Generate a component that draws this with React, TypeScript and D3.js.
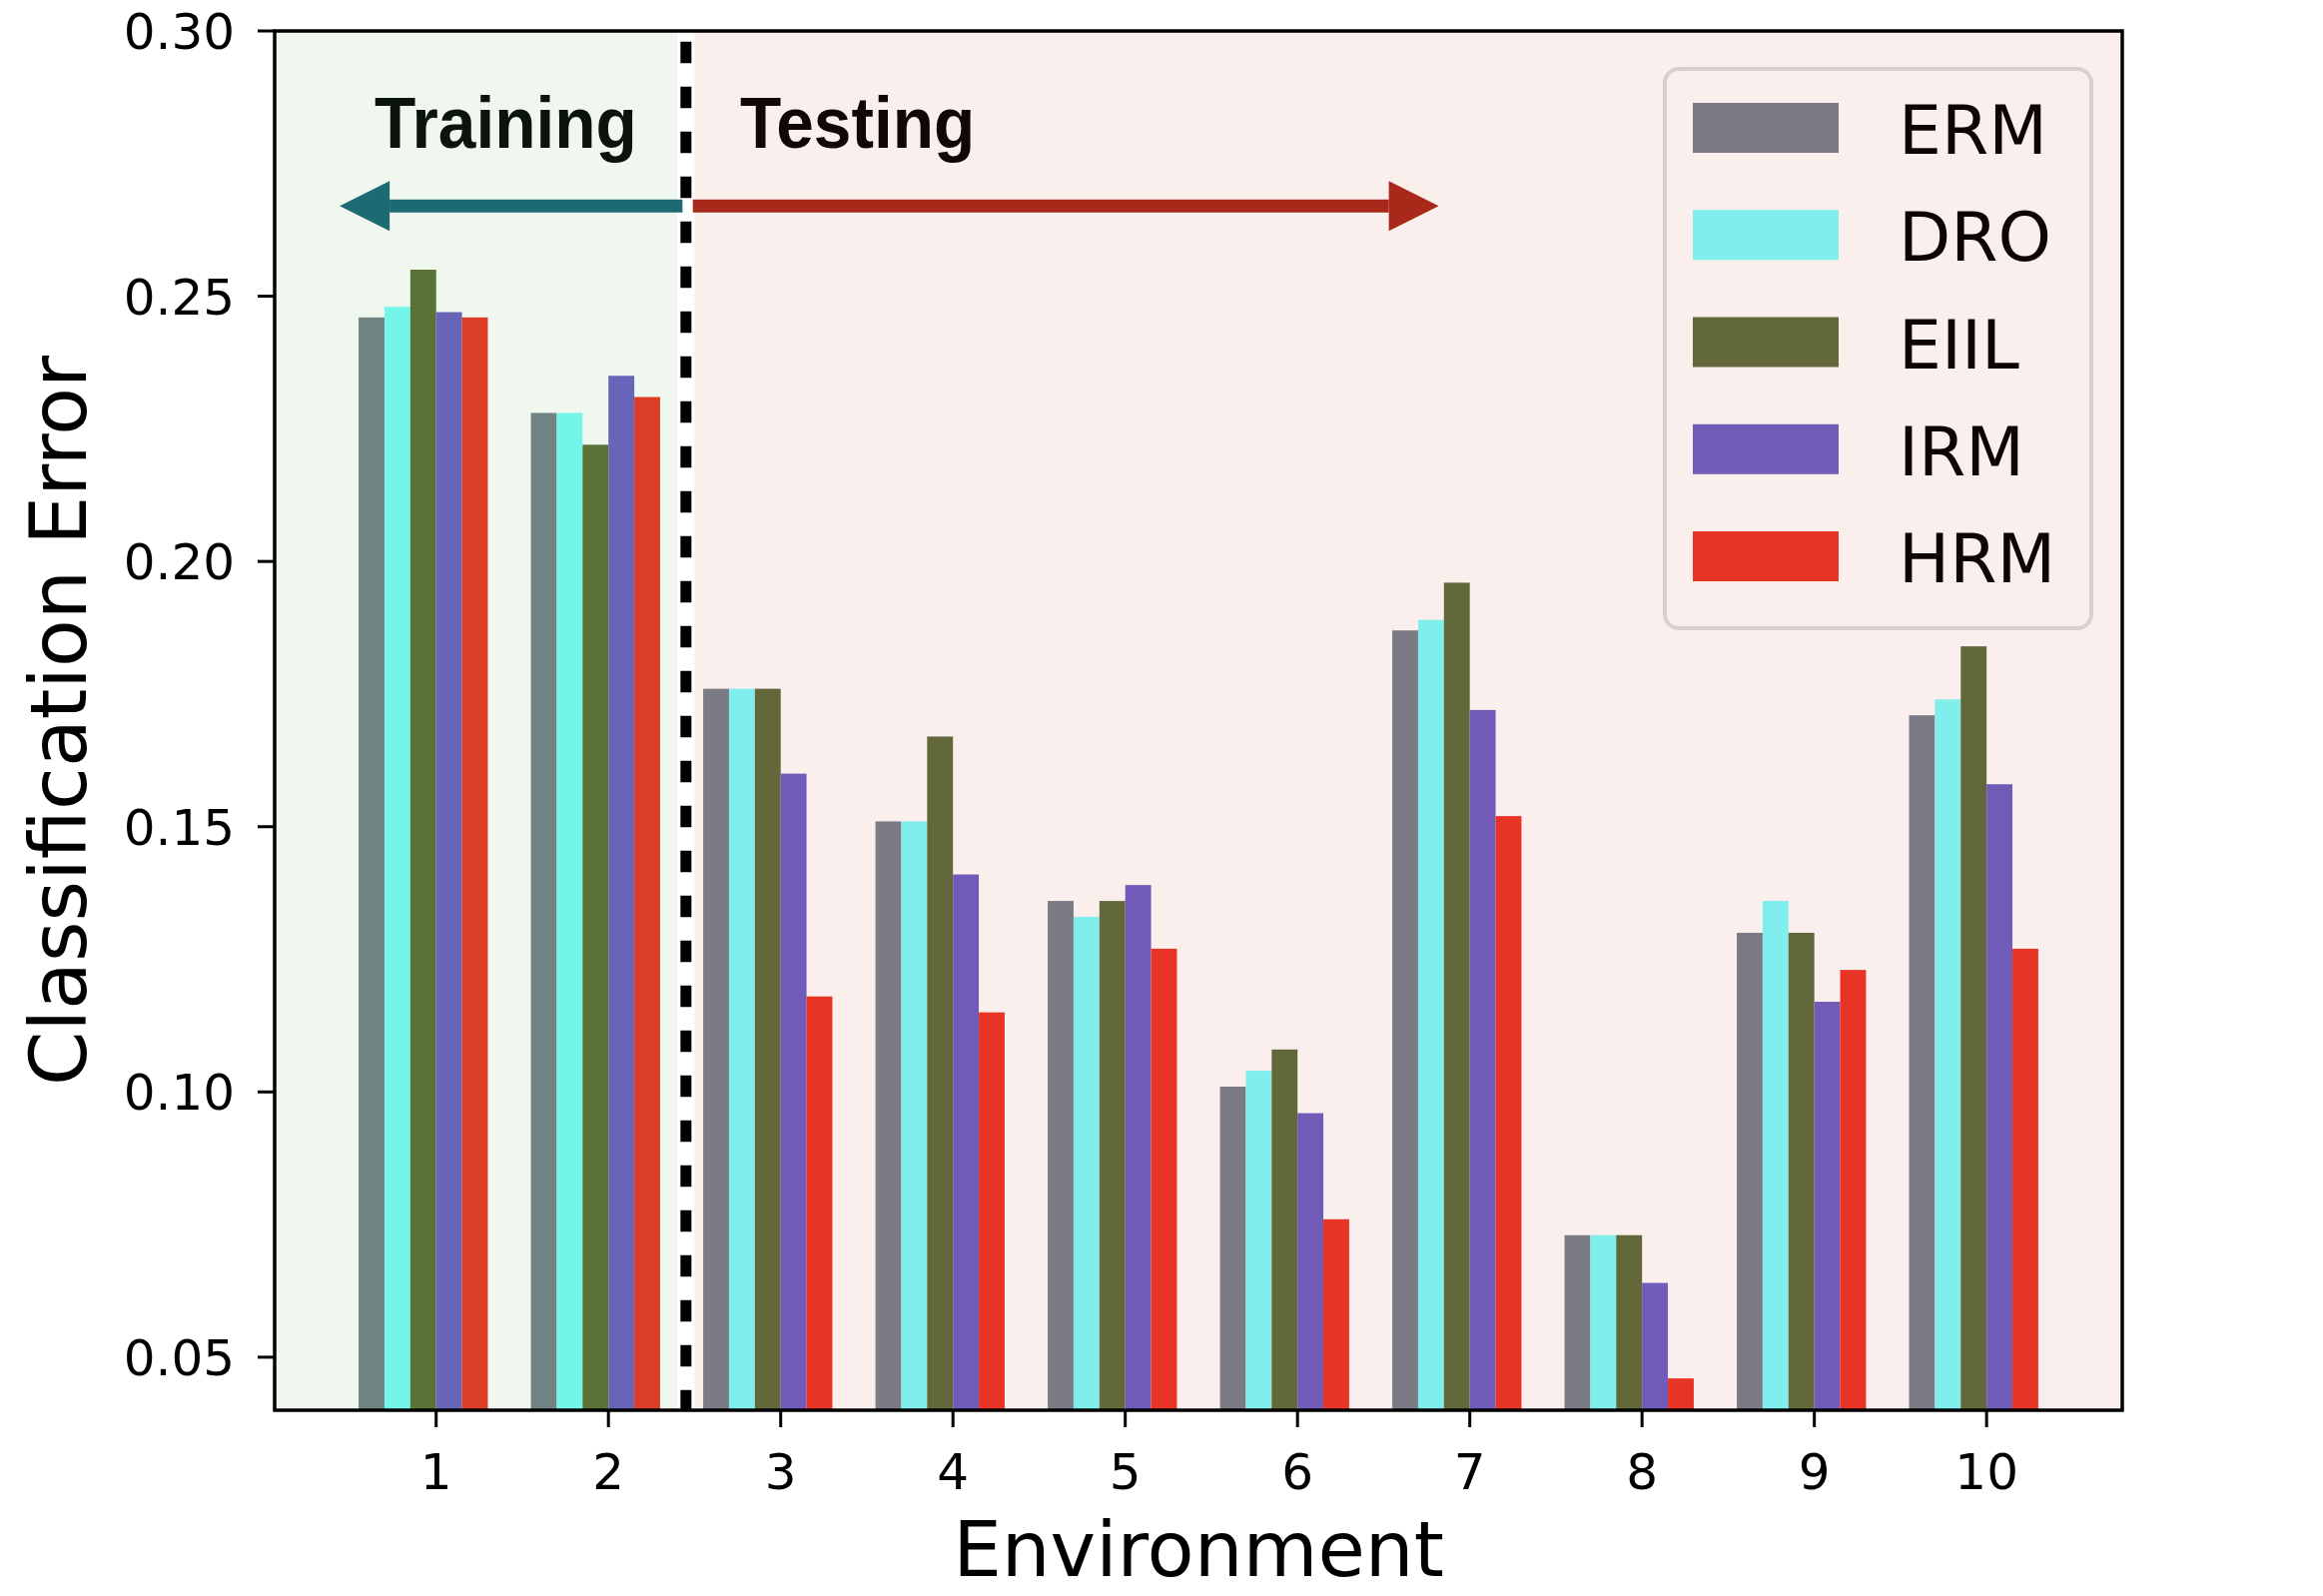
import { useEffect, useRef } from "react"
import * as d3 from "d3"

// Environments on the x axis
const environments = [1, 2, 3, 4, 5, 6, 7, 8, 9, 10]
const methods = ["ERM", "DRO", "EIIL", "IRM", "HRM"]

// Classification error per method, one value per environment
const erm = [0.246, 0.228, 0.176, 0.151, 0.136, 0.101, 0.187, 0.073, 0.13, 0.171]
const dro = [0.248, 0.228, 0.176, 0.151, 0.133, 0.104, 0.189, 0.073, 0.136, 0.174]
const eiil = [0.255, 0.222, 0.176, 0.167, 0.136, 0.108, 0.196, 0.073, 0.13, 0.184]
const irm = [0.247, 0.235, 0.16, 0.141, 0.139, 0.096, 0.172, 0.064, 0.117, 0.158]
const hrm = [0.246, 0.231, 0.118, 0.115, 0.127, 0.076, 0.152, 0.046, 0.123, 0.127]

const yTicks = [0.05, 0.1, 0.15, 0.2, 0.25, 0.3]
const trainingEnvs = [1, 2]

const testColors = ["#7b7b86", "#7feeec", "#63683a", "#705cb8", "#e83425"]
const trainColors = ["#718282", "#74f5ea", "#5b7236", "#6865b8", "#db3d26"]

export default function App() {
  const svgRef = useRef<SVGSVGElement>(null)
  const width = 2326
  const height = 1598

  useEffect(() => {
    const svg = d3.select(svgRef.current)
    svg.selectAll("*").remove()

    const margin = { top: 31, right: 201, bottom: 186, left: 275 }
    const x0 = margin.left
    const x1 = width - margin.right
    const y0 = height - margin.bottom
    const y1 = margin.top

    const series = [erm, dro, eiil, irm, hrm]
    const barW = 0.15

    // matplotlib style limits: bar extent plus 5% margin
    const lo = 1 - 3 * barW
    const hi = 10 + 2 * barW
    const pad = (hi - lo) * 0.05
    const x = d3.scaleLinear().domain([lo - pad, hi + pad]).range([x0, x1])
    const y = d3.scaleLinear().domain([0.04, 0.3]).range([y0, y1])

    const g = svg.append("g")

    // clip for everything inside the axes
    svg
      .append("clipPath")
      .attr("id", "plotClip")
      .append("rect")
      .attr("x", x0)
      .attr("y", y1)
      .attr("width", x1 - x0)
      .attr("height", y0 - y1)

    const plot = g.append("g").attr("clip-path", "url(#plotClip)")

    // training / testing regions
    plot
      .append("rect")
      .attr("x", x0)
      .attr("y", y1)
      .attr("width", x(2.4) - x0)
      .attr("height", y0 - y1)
      .attr("fill", "#f0f7ee")
    plot
      .append("rect")
      .attr("x", x(2.5))
      .attr("y", y1)
      .attr("width", x1 - x(2.5))
      .attr("height", y0 - y1)
      .attr("fill", "#fbefed")

    // bars
    series.forEach((vals, i) => {
      plot
        .append("g")
        .selectAll("rect")
        .data(vals)
        .join("rect")
        .attr("x", (_, j) => x(environments[j] + (i - 3) * barW))
        .attr("width", x(barW) - x(0))
        .attr("y", (d) => y(d))
        .attr("height", (d) => y0 + 10 - y(d))
        .attr("fill", (_, j) => (trainingEnvs.includes(environments[j]) ? trainColors[i] : testColors[i]))
    })

    // dashed divider
    plot
      .append("line")
      .attr("x1", x(2.45))
      .attr("x2", x(2.45))
      .attr("y1", y1)
      .attr("y2", y0)
      .attr("stroke", "#000")
      .attr("stroke-width", 11)
      .attr("stroke-dasharray", "21.6 23.4")
      .attr("stroke-dashoffset", 34.3)

    // arrows
    const arrowY = y(0.267)
    const drawArrow = (from: number, to: number, color: string) => {
      const dir = Math.sign(to - from)
      const xf = x(from)
      const xt = x(to)
      const headLen = 50
      const headHalf = 25
      plot
        .append("line")
        .attr("x1", xf)
        .attr("x2", xt - dir * headLen)
        .attr("y1", arrowY)
        .attr("y2", arrowY)
        .attr("stroke", color)
        .attr("stroke-width", 13)
      plot
        .append("path")
        .attr(
          "d",
          `M${xt},${arrowY}L${xt - dir * headLen},${arrowY - headHalf}L${xt - dir * headLen},${arrowY + headHalf}Z`
        )
        .attr("fill", color)
    }
    drawArrow(2.43, 0.44, "#1d6a74")
    drawArrow(2.49, 6.82, "#a8291a")

    // region labels (condensed bold)
    const labelFont = "'Liberation Sans', Arial, Helvetica, sans-serif"
    const regionLabel = (at: number, label: string, color: string) => {
      plot
        .append("text")
        .attr("transform", `translate(${x(at)},${y(0.278)}) scale(0.926,1)`)
        .attr("font-family", labelFont)
        .attr("font-weight", "bold")
        .attr("font-size", 73)
        .attr("fill", color)
        .text(label)
    }
    regionLabel(0.642, "Training", "#0a140a")
    regionLabel(2.764, "Testing", "#120606")

    // legend
    const font = "'DejaVu Sans', sans-serif"
    const lg = g.append("g").attr("transform", `translate(${x1 - 458},${y1 + 38})`)
    lg.append("rect")
      .attr("x", 0)
      .attr("y", 0)
      .attr("width", 427)
      .attr("height", 560)
      .attr("rx", 14)
      .attr("fill", "#faefed")
      .attr("stroke", "#dacfcf")
      .attr("stroke-width", 4)
    methods.forEach((m, i) => {
      const cy = 59 + i * 107.25
      lg.append("rect")
        .attr("x", 28)
        .attr("y", cy - 25)
        .attr("width", 146)
        .attr("height", 50)
        .attr("fill", testColors[i])
      lg.append("text")
        .attr("x", 234)
        .attr("y", cy + 26)
        .attr("font-family", font)
        .attr("font-size", 68)
        .attr("fill", "#0d0505")
        .text(m)
    })

    // spines
    g.append("rect")
      .attr("x", x0)
      .attr("y", y1)
      .attr("width", x1 - x0)
      .attr("height", y0 - y1)
      .attr("fill", "none")
      .attr("stroke", "#000")
      .attr("stroke-width", 3.5)

    // y axis
    const yAxis = g.append("g")
    yTicks.forEach((t) => {
      yAxis
        .append("line")
        .attr("x1", x0 - 17)
        .attr("x2", x0)
        .attr("y1", y(t))
        .attr("y2", y(t))
        .attr("stroke", "#000")
        .attr("stroke-width", 3)
      yAxis
        .append("text")
        .attr("x", x0 - 40)
        .attr("y", y(t) + 18)
        .attr("text-anchor", "end")
        .attr("font-family", font)
        .attr("font-size", 50)
        .attr("fill", "#000")
        .text(d3.format(".2f")(t))
    })

    // x axis
    const xAxis = g.append("g")
    environments.forEach((e) => {
      xAxis
        .append("line")
        .attr("x1", x(e))
        .attr("x2", x(e))
        .attr("y1", y0)
        .attr("y2", y0 + 17)
        .attr("stroke", "#000")
        .attr("stroke-width", 3)
      xAxis
        .append("text")
        .attr("x", x(e))
        .attr("y", y0 + 79)
        .attr("text-anchor", "middle")
        .attr("font-family", font)
        .attr("font-size", 50)
        .attr("fill", "#000")
        .text(String(e))
    })

    // axis titles
    g.append("text")
      .attr("x", (x0 + x1) / 2)
      .attr("y", height - 20)
      .attr("text-anchor", "middle")
      .attr("font-family", font)
      .attr("font-size", 77)
      .attr("fill", "#000")
      .text("Environment")
    g.append("text")
      .attr("transform", `translate(86,${(y0 + y1) / 2}) rotate(-90)`)
      .attr("text-anchor", "middle")
      .attr("font-family", font)
      .attr("font-size", 78)
      .attr("fill", "#000")
      .text("Classification Error")
  }, [])

  return (
    <div style={{ position: "absolute", left: 0, top: 0, background: "#fff" }}>
      <svg ref={svgRef} width={width} height={height} style={{ display: "block" }} />
    </div>
  )
}
